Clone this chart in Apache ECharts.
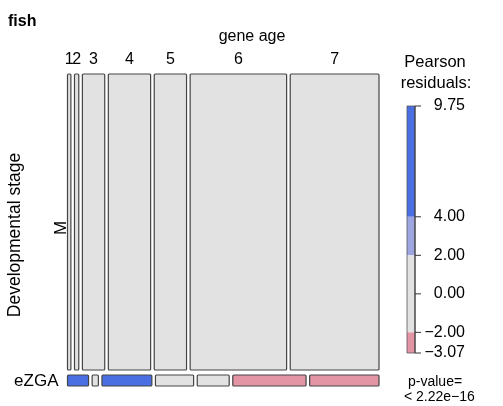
<!DOCTYPE html>
<html>
<head>
<meta charset="utf-8">
<script src="https://cdn.jsdelivr.net/npm/echarts@6/dist/echarts.min.js"></script>
<style>
  html, body { margin: 0; padding: 0; background: #fff; }
  #main { width: 503px; height: 406px; }
</style>
</head>
<body>
<div id="main"></div>
<script>
// gene age columns and developmental stage rows
const ages = ['1', '2', '3', '4', '5', '6', '7']
const stages = ['M', 'eZGA']
// gene counts per stage (row) and age (column)
const countsM = [117, 148, 771, 1459, 1115, 3328, 3063]
const countsEZGA = [27, 8, 64, 49, 41, 94, 89]
// legend of the residual scale
const legendTicks = [9.75, 4, 2, 0, -2, -3.07]
const legendBands = [
    [4, 9.75, '#4a6fe3'],
    [2, 4, '#9ea6e2'],
    [-2, 2, '#e2e2e2'],
    [-3.07, -2, '#e495a5'],
]
const pValueText = '< 2.22e\u221216'

const FONT = 'Liberation Sans, Arial, Helvetica, sans-serif'
const table = [countsM, countsEZGA]
const rowTotals = table.map((r) => r.reduce((a, b) => a + b, 0))
const colTotals = ages.map((_, c) => table.reduce((a, r) => a + r[c], 0))
const N = rowTotals.reduce((a, b) => a + b, 0)

const residual = (r, c) => {
    const exp = (rowTotals[r] * colTotals[c]) / N
    return (table[r][c] - exp) / Math.sqrt(exp)
}

const shade = (res) => {
    if (res > 4) return '#4a6fe3'
    if (res > 2) return '#9ea6e2'
    if (res < -4) return '#d33f6a'
    if (res < -2) return '#e495a5'
    return '#e2e2e2'
}

// gaps between tiles, in axis units (axes run 0..1)
const gapX = 3.6 / 311.5
const gapY = 5 / 312

const cells = []
stages.forEach((s, r) => {
    ages.forEach((a, c) => {
        cells.push([r, c, table[r][c], residual(r, c)])
    })
})

const txt = (text, size, extra) => ({
    text, font: size + 'px ' + FONT, fill: '#000', align: 'center', verticalAlign: 'middle', ...extra,
})

const renderCell = (params, api) => {
    const r = api.value(0)
    const c = api.value(1)
    const row = table[r]
    const usableW = 1 - gapX * (ages.length - 1)
    let x0 = 0
    for (let i = 0; i < c; i++) x0 += (usableW * row[i]) / rowTotals[r] + gapX
    const x1 = x0 + (usableW * row[c]) / rowTotals[r]
    const usableH = 1 - gapY * (stages.length - 1)
    let y0 = 0
    for (let i = 0; i < r; i++) y0 += (usableH * rowTotals[i]) / N + gapY
    const y1 = y0 + (usableH * rowTotals[r]) / N
    const p0 = api.coord([x0, y0])
    const p1 = api.coord([x1, y1])
    const children = [
        {
            type: 'rect',
            shape: { x: p0[0], y: p0[1], width: p1[0] - p0[0], height: p1[1] - p0[1], r: 1 },
            style: { fill: shade(api.value(3)), stroke: '#444', lineWidth: 1.2 },
        },
    ]
    if (r === 0) {
        children.push({
            type: 'text', x: (p0[0] + p1[0]) / 2, y: p0[1] - 14,
            style: txt(ages[c], 16),
        })
    }
    if (c === 0) {
        const ym = (p0[1] + p1[1]) / 2
        children.push(
            r === 0
                ? { type: 'text', x: p0[0] - 6, y: ym + 6, rotation: Math.PI / 2, style: txt(stages[r], 17) }
                : { type: 'text', x: p0[0] - 9, y: ym + 1, style: txt(stages[r], 17, { align: 'right' }) },
        )
    }
    return { type: 'group', children }
}

const renderBand = (params, api) => {
    const a = api.coord([0, api.value(0)])
    const b = api.coord([1, api.value(1)])
    return {
        type: 'rect',
        shape: { x: a[0], y: b[1], width: b[0] - a[0], height: a[1] - b[1] },
        style: { fill: api.visual('color') },
    }
}

// ticks and frame of the colour bar
const renderTick = (params, api) => {
    const p = api.coord([1, api.value(0)])
    const children = [
        { type: 'line', shape: { x1: p[0], y1: p[1], x2: p[0] + 6, y2: p[1] }, style: { stroke: '#333', lineWidth: 1 } },
    ]
    if (params.dataIndex === 0) {
        const top = api.coord([0, legendTicks[0]])
        const bot = api.coord([1, legendTicks[legendTicks.length - 1]])
        children.push({
            type: 'rect',
            shape: { x: top[0], y: top[1], width: bot[0] - top[0], height: bot[1] - top[1] },
            style: { fill: 'none', stroke: '#555', lineWidth: 0.8 },
        })
        children.push({
            type: 'line',
            shape: { x1: bot[0], y1: top[1], x2: bot[0], y2: bot[1] },
            style: { stroke: '#333', lineWidth: 1 },
        })
    }
    return { type: 'group', children }
}

const chart = echarts.init(document.getElementById('main'), null, { renderer: 'canvas' })

chart.setOption({
    animation: false,
    backgroundColor: '#fff',
    textStyle: { fontFamily: FONT },
    grid: [
        { left: 67.5, right: 124, top: 74, bottom: 20 },
        { left: 407, width: 8, top: 106, bottom: 53 },
    ],
    xAxis: [
        { type: 'value', gridIndex: 0, min: 0, max: 1, show: false },
        { type: 'value', gridIndex: 1, min: 0, max: 1, show: false },
    ],
    yAxis: [
        { type: 'value', gridIndex: 0, min: 0, max: 1, inverse: true, show: false },
        {
            type: 'value', gridIndex: 1, position: 'right',
            min: legendTicks[legendTicks.length - 1], max: legendTicks[0],
            splitLine: { show: false },
            axisLine: { show: false },
            axisTick: { show: false },
            axisLabel: {
                customValues: legendTicks, color: '#000', fontSize: 16, fontFamily: FONT,
                align: 'right', margin: 50,
                formatter: (v) => v.toFixed(2).replace('-', '\u2212'),
            },
        },
    ],
    series: [
        {
            type: 'custom', xAxisIndex: 0, yAxisIndex: 0,
            renderItem: renderCell, data: cells, clip: false,
        },
        {
            type: 'custom', xAxisIndex: 1, yAxisIndex: 1, renderItem: renderBand,
            data: legendBands.map((b) => ({ value: [b[0], b[1]], itemStyle: { color: b[2] } })),
        },
        {
            type: 'custom', xAxisIndex: 1, yAxisIndex: 1, renderItem: renderTick, clip: false, z: 5,
            data: legendTicks.map((v) => [v]),
        },
    ],
    graphic: [
        { type: 'text', left: 8, top: 14, style: { text: 'fish', font: 'bold 16px ' + FONT, fill: '#000' } },
        { type: 'text', x: 252, y: 37, style: txt('gene age', 16) },
        { type: 'text', x: 15, y: 235, rotation: Math.PI / 2, style: txt('Developmental stage', 17.5) },
        { type: 'text', x: 435, y: 62, style: txt('Pearson', 16.5) },
        { type: 'text', x: 436, y: 83, style: txt('residuals:', 16.5) },
        { type: 'text', x: 408, y: 382, style: { text: 'p-value=', font: '14px ' + FONT, fill: '#000', align: 'left', verticalAlign: 'middle' } },
        { type: 'text', x: 404, y: 397, style: { text: pValueText, font: '14px ' + FONT, fill: '#000', align: 'left', verticalAlign: 'middle' } },
    ],
})
</script>
</body>
</html>
